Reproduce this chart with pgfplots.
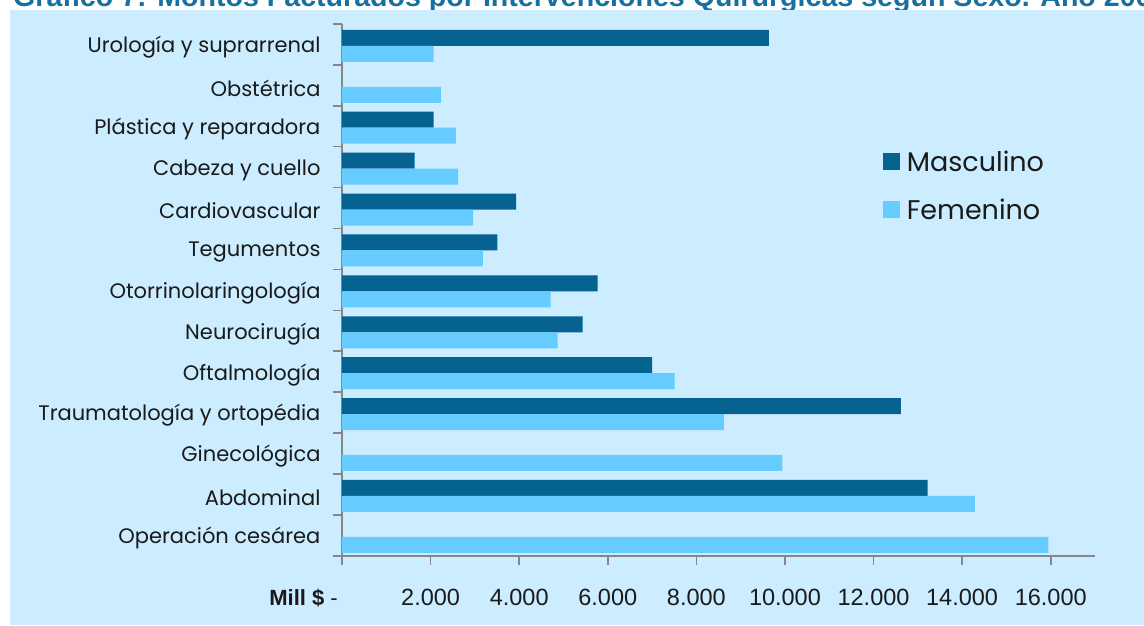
\documentclass[border=0pt]{standalone}
\usepackage{pgfplots}
\pgfplotsset{compat=1.18}
\usepackage{fontspec}
\setmainfont{Liberation Sans}
\newfontfamily\catfont{Poppins}
\definecolor{bgcol}{HTML}{CCECFF}
\definecolor{darkbar}{HTML}{066291}
\definecolor{lightbar}{HTML}{66CCFF}
\definecolor{axcol}{HTML}{878787}
\definecolor{textcol}{HTML}{1A1A1A}
\definecolor{titlecol}{HTML}{17709F}
\begin{document}
\begin{tikzpicture}
\useasboundingbox (0pt,0pt) rectangle (1144pt,625pt);
\node[anchor=base west, inner sep=0pt, text=titlecol, font=\fontsize{28.6}{30}\selectfont\bfseries] at (13pt,618pt) {Gráfico 7: Montos Facturados por Intervenciones Quirúrgicas según Sexo. Año 2005};
\fill[bgcol] (10pt,0pt) rectangle (1160pt,615pt);
\begin{axis}[
  at={(342pt,69.3pt)}, anchor=south west,
  scale only axis, width=753pt, height=531.7pt,
  xmin=0, xmax=17000, ymin=-0.5, ymax=12.5,
  xbar, bar width=16pt,
  scaled x ticks=false,
  axis x line*=bottom, axis y line*=left,
  axis line style={draw=axcol, line width=1.6pt},
  tick align=outside,
  major tick length=9pt, minor tick length=9pt,
  every tick/.style={draw=axcol, line width=1.6pt},
  major y tick style={draw=none},
  xtick={0,2000,4000,6000,8000,10000,12000,14000,16000},
  xticklabels={,2.000,4.000,6.000,8.000,10.000,12.000,14.000,16.000},
  xticklabel style={font=\fontsize{23.5}{23.5}\selectfont, text=textcol, yshift=-21pt},
  ytick={0,1,2,3,4,5,6,7,8,9,10,11,12},
  minor ytick={-0.5,0.5,1.5,2.5,3.5,4.5,5.5,6.5,7.5,8.5,9.5,10.5,11.5,12.5},
  yticklabels={Operación cesárea,Abdominal,Ginecológica,Traumatología y ortopédia,Oftalmología,Neurocirugía,Otorrinolaringología,Tegumentos,Cardiovascular,Cabeza y cuello,Plástica y reparadora,Obstétrica,Urología y suprarrenal},
  yticklabel style={font=\catfont\fontsize{21}{21}\selectfont, text=textcol, xshift=-9pt, yshift=-3pt},
  legend style={at={(0.714,0.77)}, anchor=north west, draw=none, fill=none,
    font=\catfont\fontsize{27}{27}\selectfont, text=textcol, row sep=22pt, column sep=5pt},
  legend cell align=left,
  legend image code/.code={\fill[#1] (0pt,-8.5pt) rectangle (17pt,8.5pt);},
]
\addplot[fill=darkbar, draw=none, bar shift=6.5pt] coordinates {
  (13220,1) (12620,3) (7000,4) (5430,5) (5770,6) (3510,7) (3930,8) (1640,9) (2070,10) (9640,12)
};
\addplot[fill=lightbar, draw=none, bar shift=-9.5pt] coordinates {
  (15950,0) (14290,1) (9940,2) (8620,3) (7510,4) (4870,5) (4710,6) (3180,7) (2960,8) (2620,9) (2570,10) (2230,11) (2070,12)
};
\legend{Masculino,Femenino}
\end{axis}
\node[anchor=base east, inner sep=0pt, text=textcol, font=\fontsize{22}{22}\selectfont] at (338pt,19.3pt) {\textbf{Mill \$} -};
\end{tikzpicture}
\end{document}
